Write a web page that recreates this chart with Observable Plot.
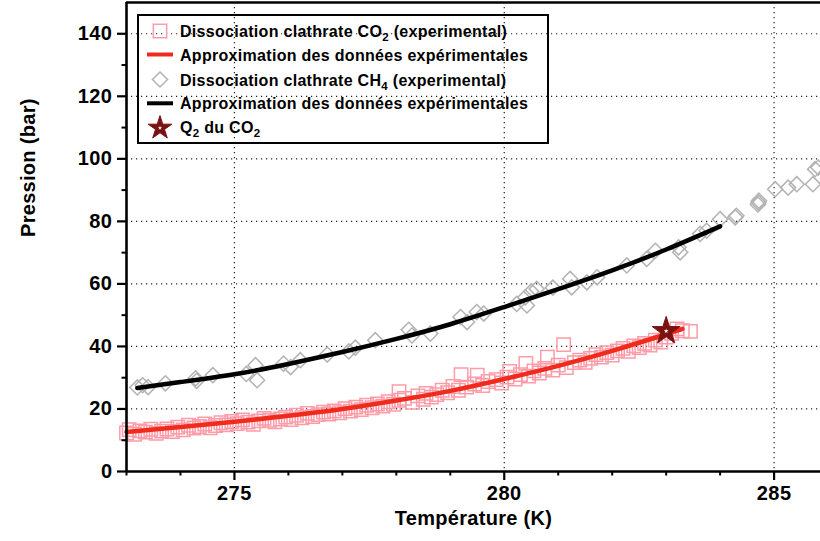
<!DOCTYPE html>
<html>
<head>
<meta charset="utf-8">
<script src="https://cdn.jsdelivr.net/npm/d3@7"></script>
<script src="https://cdn.jsdelivr.net/npm/@observablehq/plot@0.6"></script>
<style>
  html, body { margin: 0; padding: 0; background: #fff; }
  #chart svg { display: block; font-family: "Liberation Sans", Arial, Helvetica, sans-serif; }
</style>
</head>
<body>
<div id="chart"></div>
<script>
// ---- Data ----
const co2T = [273.0,273.05,273.15,273.25,273.35,273.45,273.55,273.65,273.75,273.85,273.95,274.05,274.15,274.25,274.35,274.45,274.55,274.65,274.75,274.85,274.95,275.05,275.15,275.25,275.35,275.45,275.55,275.65,275.75,275.85,275.95,276.05,276.15,276.25,276.35,276.45,276.55,276.65,276.75,276.85,276.95,277.05,277.15,277.25,277.35,277.45,277.55,277.65,277.75,277.85,277.95,278.05,278.05,278.15,278.3,278.4,278.5,278.55,278.65,278.75,278.85,278.95,279.05,279.15,279.2,279.3,279.45,279.5,279.6,279.7,279.85,279.95,280.05,280.1,280.2,280.3,280.4,280.45,280.55,280.65,280.75,280.8,280.9,281.0,281.1,281.15,281.3,281.4,281.5,281.6,281.7,281.8,281.9,282.0,282.1,282.2,282.3,282.4,282.5,282.6,282.7,282.8,282.9,283.0,283.1,283.2,283.3,283.45];
const co2P = [12.3,13.4,11.9,13.0,12.6,13.5,12.2,12.9,13.6,12.8,14.2,13.3,14.8,13.9,14.4,15.2,14.0,14.7,15.6,14.9,16.0,15.3,16.5,15.8,15.1,16.2,17.0,16.4,15.9,16.8,17.4,16.6,18.0,17.2,18.6,17.6,18.2,19.0,18.4,19.4,18.8,20.1,19.3,20.6,19.8,21.2,20.4,21.6,20.9,22.3,21.5,25.5,22.8,23.4,22.1,24.2,23.1,25.0,23.8,24.6,26.0,25.2,27.2,26.0,31.0,27.0,28.0,30.8,27.5,28.8,29.4,28.3,30.2,32.0,29.6,31.0,34.6,30.5,32.2,31.5,33.0,36.6,32.4,34.0,40.6,33.2,34.8,35.6,34.9,36.2,37.4,36.6,38.0,37.2,38.6,39.4,38.4,40.2,39.6,41.0,40.4,42.0,41.4,43.0,44.2,45.6,45.0,44.8];

const co2FitT = [273.0,274,275,276,277,278,279,280,281,282,283,283.3];
const co2FitP = [12.6,14.2,15.9,17.8,20.0,22.7,25.8,29.6,33.8,38.6,43.9,45.6];

const ch4T = [273.2,273.3,273.4,273.72,274.28,274.3,274.6,275.22,275.39,275.42,275.91,276.04,276.22,276.72,277.12,277.24,277.61,278.23,278.29,278.63,279.19,279.31,279.49,279.62,280.23,280.39,280.42,280.5,280.6,280.9,281.22,281.25,281.53,281.72,282.27,282.64,282.8,283.23,283.26,283.63,283.75,284.0,284.28,284.3,284.71,284.72,284.7,285.02,285.26,285.42,285.72,285.76,285.82];
const ch4P = [26.9,27.6,27.0,28.2,29.8,29.0,30.8,31.2,34.0,29.2,34.5,33.4,35.6,37.4,38.4,39.6,42.0,45.3,43.5,44.1,49.4,47.8,51.0,50.5,53.6,55.7,53.1,57.6,58.4,58.8,61.6,58.9,60.5,62.1,65.9,68.0,70.6,71.7,70.1,76.0,77.0,80.7,81.3,81.8,86.0,86.6,85.4,90.3,90.8,91.9,91.9,96.7,97.2];

const ch4FitT = [273.2,274,275,276,277,278,279,280,281,282,283,284];
const ch4FitP = [26.7,28.6,31.1,34.4,38.2,42.4,47.1,52.6,58.3,64.3,71.0,78.4];

const q2T = [283.0];
const q2P = [44.9];

const xMajorTicks = [275, 280, 285];
const xMinorTicks = [273, 274, 276, 277, 278, 279, 281, 282, 283, 284];
const yMajorTicks = [0, 20, 40, 60, 80, 100, 120, 140];
const yMinorTicks = [10, 30, 50, 70, 90, 110, 130];
const xDomain = [273, 285.86];
const yDomain = [0, 150];

const xTitle = "Température (K)";
const yTitle = "Pression (bar)";

// ---- Tables ----
const co2 = co2T.map((t, i) => ({t, p: co2P[i]}));
const co2Fit = co2FitT.map((t, i) => ({t, p: co2FitP[i]}));
const ch4 = ch4T.map((t, i) => ({t, p: ch4P[i]}));
const ch4Fit = ch4FitT.map((t, i) => ({t, p: ch4FitP[i]}));
const q2 = q2T.map((t, i) => ({t, p: q2P[i]}));

const FONT = "Liberation Sans, Arial, Helvetica, sans-serif";
const PINK = "#ff9ca8", RED = "#ee2b1c", GRAY = "#b3b3b3", STAR = "#7b1212";
const gridStyle = {stroke: "#222", strokeOpacity: 1, strokeWidth: 1.2, strokeDasharray: "1.2,3.8"};

const chart = Plot.plot({
  width: 820,
  height: 541,
  marginLeft: 126,
  marginRight: 0,
  marginTop: 2,
  marginBottom: 70,
  style: {fontFamily: FONT, background: "white"},
  x: {domain: xDomain},
  y: {domain: yDomain},
  marks: [
    Plot.gridX(xMajorTicks, gridStyle),
    Plot.gridY(yMajorTicks.filter(d => d > 0), gridStyle),
    Plot.dot(co2, {x: "t", y: "p", symbol: "square2", r: 8.5, stroke: PINK, strokeWidth: 1.5, fill: "none"}),
    Plot.dot(ch4, {x: "t", y: "p", symbol: "diamond2", r: 6.8, stroke: GRAY, strokeWidth: 1.5, fill: "none"}),
    Plot.line(co2Fit, {x: "t", y: "p", curve: "natural", stroke: RED, strokeWidth: 4.5}),
    Plot.line(ch4Fit, {x: "t", y: "p", curve: "natural", stroke: "black", strokeWidth: 4.5}),
    Plot.dot(q2, {x: "t", y: "p", symbol: "star", r: 8.8, fill: STAR, stroke: STAR, strokeWidth: 1}),
    Plot.dot(q2, {x: "t", y: "p", symbol: "star", r: 1.5, fill: "white", stroke: "none"}),
    Plot.axisX({ticks: xMajorTicks, tickSize: 9, tickPadding: 5, strokeWidth: 2.2, fontSize: 20, fontWeight: "bold", label: null, tickFormat: d => String(d)}),
    Plot.axisX({ticks: xMinorTicks, tickSize: 4.5, strokeWidth: 2, label: null, tickFormat: () => ""}),
    Plot.axisY({ticks: yMajorTicks, tickSize: 9, tickPadding: 5, strokeWidth: 2.2, fontSize: 20, fontWeight: "bold", label: null, tickFormat: d => String(d)}),
    Plot.axisY({ticks: yMinorTicks, tickSize: 4.5, strokeWidth: 2, label: null, tickFormat: () => ""}),
    Plot.ruleX([xDomain[0]], {strokeWidth: 2.6}),
    Plot.ruleY([yDomain[0]], {strokeWidth: 2.6}),
    Plot.ruleY([yDomain[1]], {strokeWidth: 2.6}),
    Plot.text([xTitle], {frameAnchor: "bottom", dy: 53, fontSize: 20, fontWeight: "bold", fill: "black"}),
    Plot.text([yTitle], {frameAnchor: "left", dx: -98, rotate: -90, fontSize: 20, fontWeight: "bold", fill: "black"})
  ]
});

document.getElementById("chart").appendChild(chart);

const svg = d3.select(chart);
svg.selectAll('g[aria-label$="tick label"] text').attr("letter-spacing", 0.5);
svg.selectAll('g[aria-label="text"] text').attr("letter-spacing", 0.3);

// ---- Legend ----
const lg = svg.append("g")
  .attr("font-family", FONT)
  .attr("font-weight", "bold")
  .attr("font-size", 16)
  .attr("letter-spacing", 0.3)
  .attr("text-anchor", "start")
  .attr("fill", "black");

lg.append("rect").attr("x", 138).attr("y", 15).attr("width", 410).attr("height", 128)
  .attr("fill", "none").attr("stroke", "black").attr("stroke-width", 2);

const legendRows = [
  {parts: [["Dissociation clathrate CO", 0], ["2", 1], [" (experimental)", 0]], kind: "square"},
  {parts: [["Approximation des données expérimentales", 0]], kind: "redline"},
  {parts: [["Dissociation clathrate CH", 0], ["4", 1], [" (experimental)", 0]], kind: "diamond"},
  {parts: [["Approximation des données expérimentales", 0]], kind: "blackline"},
  {parts: [["Q", 0], ["2", 1], [" du CO", 0], ["2", 1]], kind: "star"}
];
const rowY = [31, 54.5, 79.5, 103.3, 127];
const symX = 160, textX = 180;

legendRows.forEach((row, i) => {
  const cy = rowY[i];
  if (row.kind === "square") {
    lg.append("path").attr("transform", `translate(${symX},${cy})`)
      .attr("d", d3.symbol(d3.symbolSquare2, Math.PI * 8.5 * 8.5)())
      .attr("fill", "none").attr("stroke", PINK).attr("stroke-width", 1.5);
  } else if (row.kind === "diamond") {
    lg.append("path").attr("transform", `translate(${symX},${cy})`)
      .attr("d", d3.symbol(d3.symbolDiamond2, Math.PI * 6.8 * 6.8)())
      .attr("fill", "none").attr("stroke", GRAY).attr("stroke-width", 1.5);
  } else if (row.kind === "redline" || row.kind === "blackline") {
    lg.append("line").attr("x1", 147).attr("x2", 173).attr("y1", cy).attr("y2", cy)
      .attr("stroke", row.kind === "redline" ? RED : "black").attr("stroke-width", 4);
  } else if (row.kind === "star") {
    lg.append("path").attr("transform", `translate(${symX},${cy + 1})`)
      .attr("d", d3.symbol(d3.symbolStar, Math.PI * 7.4 * 7.4)())
      .attr("fill", STAR).attr("stroke", STAR).attr("stroke-width", 1);
    lg.append("path").attr("transform", `translate(${symX},${cy + 1})`)
      .attr("d", d3.symbol(d3.symbolStar, Math.PI * 1.3 * 1.3)())
      .attr("fill", "white");
  }
  const t = lg.append("text").attr("x", textX).attr("y", cy + 6);
  let shifted = false;
  row.parts.forEach(([s, sub]) => {
    const ts = t.append("tspan").text(s);
    if (sub && !shifted) { ts.attr("font-size", 11.5).attr("dy", 4); shifted = true; }
    else if (!sub && shifted) { ts.attr("dy", -4); shifted = false; }
  });
});
</script>
</body>
</html>
